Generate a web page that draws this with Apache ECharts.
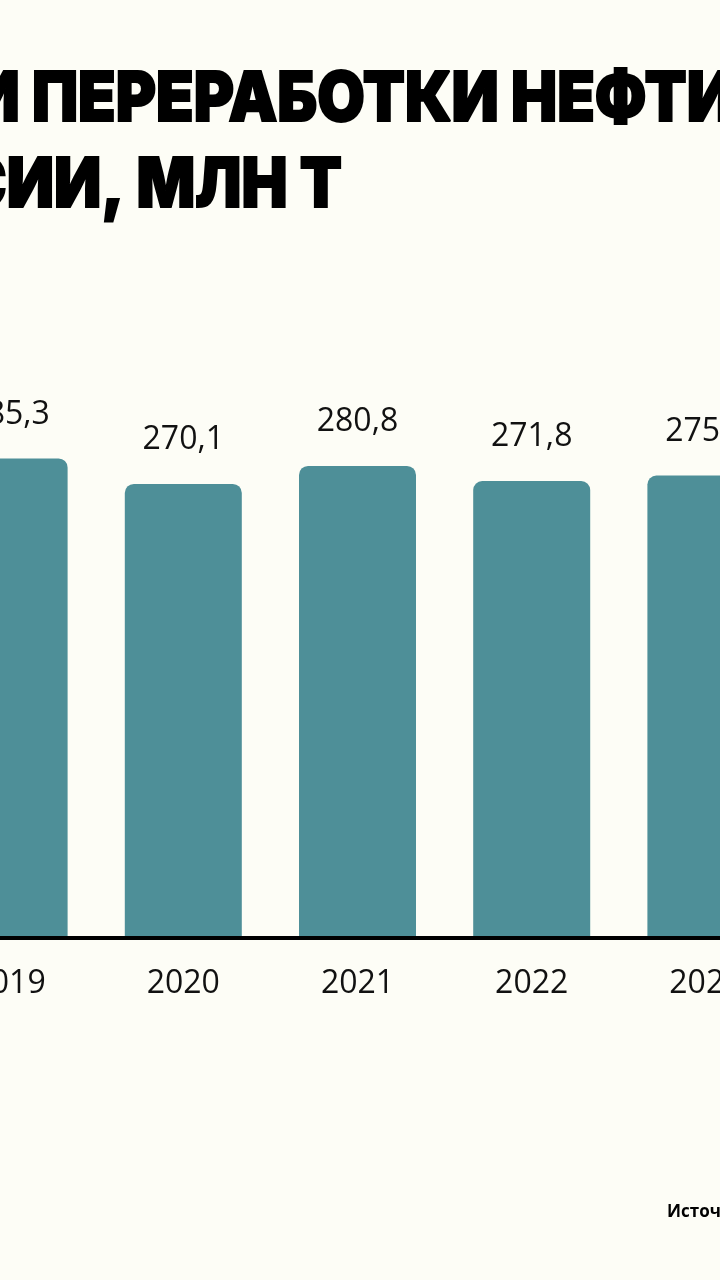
<!DOCTYPE html>
<html>
<head>
<meta charset="utf-8">
<script src="https://cdn.jsdelivr.net/npm/echarts@6/dist/echarts.min.js"></script>
<style>
html,body{margin:0;padding:0;background:#fdfdf6;width:720px;height:1280px;overflow:hidden;position:relative;}
#c{position:absolute;top:0;left:-78px;width:871px;height:1280px;}
</style>
</head>
<body>
<div id="c"></div>
<script>
const years = ['2019', '2020', '2021', '2022', '2023'];
const refining = [285.3, 270.1, 280.8, 271.8, 275.1];
const titleLine1 = 'И ПЕРЕРАБОТКИ НЕФТИ';
const titleLine2 = 'РОССИИ, МЛН Т';
const sourceText = 'Источник: Минэнерго';

const OFF = 78;           // container starts 78px left of the visible page
const W = 871, H = 1280;
const chart = echarts.init(document.getElementById('c'), null, {renderer: 'canvas', width: W, height: H});

const titleFont = '900 69px Inter';
const ctx = document.createElement('canvas').getContext('2d');
ctx.font = titleFont;
const wMain = ctx.measureText('ПЕРЕРАБОТКИ НЕФТИ').width;
const sx = 702 / wMain;
const wPrefix = ctx.measureText('И ').width * sx;
const wLine2 = ctx.measureText(titleLine2).width * sx;

chart.setOption({
  backgroundColor: '#fdfdf6',
  animation: false,
  grid: {left: 0, right: 0, top: 433.7, bottom: 342, containLabel: false},
  xAxis: {
    type: 'category',
    data: years,
    z: 10,
    axisLine: {lineStyle: {color: '#000', width: 4}},
    axisTick: {show: false},
    axisLabel: {color: '#111', fontSize: 32, fontFamily: 'Open Sans', margin: 30}
  },
  yAxis: {type: 'value', min: 0, max: 300, show: false, splitLine: {show: false}},
  series: [{
    type: 'bar',
    data: refining,
    barWidth: 117,
    itemStyle: {color: '#4e8f98', borderRadius: [9, 9, 0, 0]},
    label: {
      show: true, position: 'top', distance: 28,
      color: '#111', fontSize: 32, fontFamily: 'Open Sans',
      formatter: p => p.value.toFixed(1).replace('.', ',')
    }
  }],
  graphic: [
    {type: 'text', x: OFF + 32 - wPrefix, y: 100, scaleX: sx,
     style: {text: titleLine1, font: titleFont, fill: '#000', stroke: '#000', lineWidth: 2,
             verticalAlign: 'middle', align: 'left'}},
    {type: 'text', x: OFF + 342 - wLine2, y: 186, scaleX: sx,
     style: {text: titleLine2, font: titleFont, fill: '#000', stroke: '#000', lineWidth: 2,
             verticalAlign: 'middle', align: 'left'}},
    {type: 'text', x: OFF + 667, y: 1212,
     style: {text: sourceText, font: 'bold 17px "Open Sans"', fill: '#000', verticalAlign: 'middle', align: 'left'}}
  ]
});
</script>
</body>
</html>
